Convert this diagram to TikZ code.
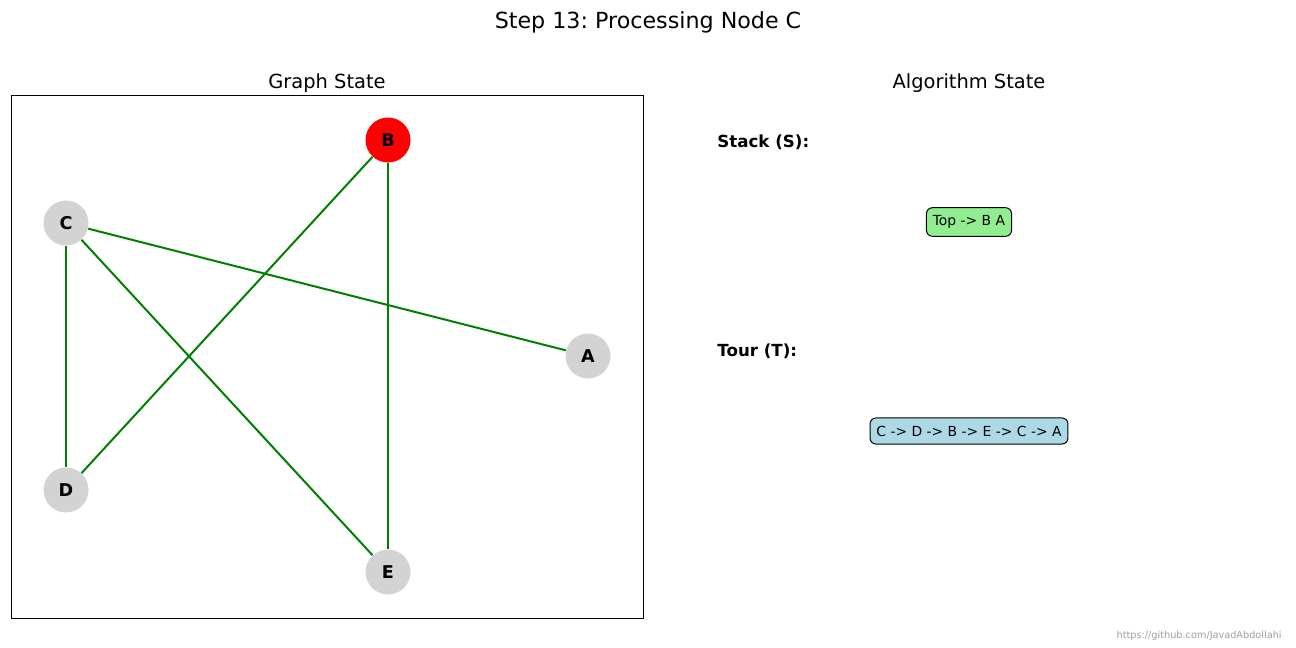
\documentclass[tikz,border=0pt]{standalone}
\usepackage{fontspec}
\setmainfont{DejaVu Sans}
\frenchspacing
\begin{document}
\begin{tikzpicture}[x=0.5pt,y=-0.5pt,
  gnode/.style={circle,fill=nodegray,minimum size=22.5pt,inner sep=0pt,font=\fontsize{8.8}{10}\selectfont\bfseries},
  gedge/.style={draw=edgegreen,line width=1pt},
  databox/.style={draw=black,line width=0.5pt,rounded corners=3pt,inner xsep=3.2pt,inner ysep=3.9pt,font=\fontsize{6.94}{8}\selectfont},
  heading/.style={font=\fontsize{8.33}{10}\selectfont\bfseries,anchor=west,inner sep=0pt},
  subtitle/.style={font=\fontsize{9.72}{12}\selectfont,inner sep=0pt}]
\definecolor{nodegray}{HTML}{D3D3D3}
\definecolor{edgegreen}{HTML}{008000}
\definecolor{lgreen}{HTML}{90EE90}
\definecolor{lblue}{HTML}{ADD8E6}
\useasboundingbox (0,0) rectangle (1296,648);
\fill[white] (0,0) rectangle (1296,648);
% title
\node[inner sep=0pt,font=\fontsize{11.1}{13}\selectfont] (title) at (648,22) {Step 13: Processing Node C};
\node[subtitle] (gs) at (327,83) {Graph State};
\node[subtitle] (as) at (969,83) {Algorithm State};
% frame
\draw[line width=0.5pt,black] (11,95) rectangle (643,618);
% nodes
\node[gnode,fill=red] (B) at (388,140) {B};
\node[gnode] (C) at (66,223) {C};
\node[gnode] (A) at (588,356) {A};
\node[gnode] (D) at (66,490) {D};
\node[gnode] (E) at (388,572) {E};
% edges
\draw[gedge] (C) -- (A);
\draw[gedge] (C) -- (D);
\draw[gedge] (C) -- (E);
\draw[gedge] (B) -- (D);
\draw[gedge] (B) -- (E);
% algorithm state
\node[heading] (stack) at (717,142) {Stack (S):};
\node[databox,fill=lgreen] (stackbox) at (969,222) {Top -> B A};
\node[heading] (tour) at (717,351) {Tour (T):};
\node[databox,fill=lblue] (tourbox) at (969,431) {C -> D -> B -> E -> C -> A};
% footer
\node[anchor=east,inner sep=0pt,text=gray!75,font=\fontsize{4.86}{6}\selectfont] (foot) at (1282,636) {https://github.com/JavadAbdollahi};
\end{tikzpicture}
\end{document}
